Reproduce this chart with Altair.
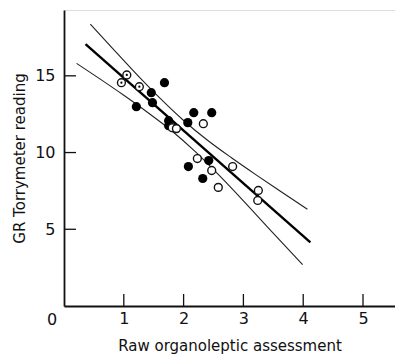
import altair as alt
import pandas as pd

# Fish samples: raw organoleptic score against GR Torrymeter reading
filled_x = [1.68, 1.46, 1.48, 1.21, 1.75, 1.75, 2.17, 2.47, 2.07, 2.42, 2.08, 2.32]
filled_y = [14.55, 13.90, 13.25, 12.99, 12.08, 11.75, 12.60, 12.60, 11.95, 9.48, 9.09, 8.31]
open_x = [1.81, 1.88, 2.33, 2.23, 2.47, 2.58, 2.82, 3.25, 3.24]
open_y = [11.62, 11.56, 11.88, 9.61, 8.83, 7.73, 9.09, 7.53, 6.88]
dotted_x = [1.05, 0.96, 1.26]
dotted_y = [15.06, 14.55, 14.29]

# Regression line and its confidence limits
fit_x = [0.36, 4.12]
fit_y = [17.06, 4.14]
upper_x = [0.44, 0.8, 1.2, 1.6, 2.0, 2.4, 2.8, 3.2, 3.6, 4.07]
upper_y = [18.37, 16.84, 15.16, 13.56, 12.09, 10.80, 9.66, 8.58, 7.53, 6.31]
lower_x = [0.21, 0.6, 1.0, 1.4, 1.8, 2.2, 2.6, 3.0, 3.4, 3.99]
lower_y = [15.81, 14.80, 13.73, 12.61, 11.42, 10.04, 8.49, 6.85, 5.16, 2.70]

x_ticks = [1, 2, 3, 4, 5]
y_ticks = [5, 10, 15]

FONT = "DejaVu Sans"
INK = "#111111"

x_scale = alt.Scale(domain=[0, 5.535], nice=False, zero=True)
y_scale = alt.Scale(domain=[0, 19.29], nice=False, zero=True)

x_axis = alt.Axis(values=x_ticks, format="d", ticks=False, grid=False, domainColor=INK, domainWidth=1.8,
                  labelFont=FONT, labelFontSize=16, labelColor=INK, labelPadding=4,
                  title="Raw organoleptic assessment", titleFont=FONT, titleFontSize=15,
                  titleFontWeight="normal", titleColor=INK, titlePadding=12)
y_axis = alt.Axis(values=y_ticks, format="d", ticks=False, grid=False, domainColor=INK, domainWidth=1.8,
                  labelFont=FONT, labelFontSize=16, labelColor=INK, labelPadding=9,
                  title="GR Torrymeter reading", titleFont=FONT, titleFontSize=15,
                  titleFontWeight="normal", titleColor=INK, titlePadding=7)

band = pd.concat([
    pd.DataFrame({"x": upper_x, "y": upper_y, "band": "upper"}),
    pd.DataFrame({"x": lower_x, "y": lower_y, "band": "lower"}),
])
fit = pd.DataFrame({"x": fit_x, "y": fit_y})
filled = pd.DataFrame({"x": filled_x, "y": filled_y})
hollow = pd.DataFrame({"x": open_x + dotted_x, "y": open_y + dotted_y})
dotted = pd.DataFrame({"x": dotted_x, "y": dotted_y})
xt = pd.DataFrame({"x": x_ticks, "y": [0] * len(x_ticks)})
yt = pd.DataFrame({"x": [0] * len(y_ticks), "y": y_ticks})
origin = pd.DataFrame({"x": [0], "y": [0], "t": ["0"]})

base_x = alt.X("x:Q", scale=x_scale, axis=x_axis)
base_y = alt.Y("y:Q", scale=y_scale, axis=y_axis)

bands = alt.Chart(band).mark_line(color="#222222", strokeWidth=1.1, interpolate="monotone").encode(
    x=base_x, y=base_y, detail="band:N")
fit_line = alt.Chart(fit).mark_line(color="#000000", strokeWidth=2.4).encode(x="x:Q", y="y:Q")
filled_pts = alt.Chart(filled).mark_circle(size=85, color="#000000", opacity=1).encode(x="x:Q", y="y:Q")
hollow_pts = alt.Chart(hollow).mark_point(shape="circle", size=62, filled=True, fill="white",
                                          stroke="#111111", strokeWidth=1.4, opacity=1).encode(x="x:Q", y="y:Q")
dots = alt.Chart(dotted).mark_circle(size=5, color="#000000", opacity=1).encode(x="x:Q", y="y:Q")
x_tick_marks = alt.Chart(xt).mark_tick(orient="vertical", size=12, thickness=1.3, color=INK,
                                       yOffset=-6, opacity=1).encode(x="x:Q", y="y:Q")
y_tick_marks = alt.Chart(yt).mark_tick(orient="horizontal", size=12, thickness=1.3, color=INK,
                                       xOffset=6, opacity=1).encode(x="x:Q", y="y:Q")
origin_label = alt.Chart(origin).mark_text(font=FONT, fontSize=16, color=INK, dx=-12, dy=14,
                                           baseline="middle").encode(x="x:Q", y="y:Q", text="t:N")

chart = alt.layer(bands, fit_line, filled_pts, hollow_pts, dots, x_tick_marks, y_tick_marks,
                  origin_label).properties(
    width=331, height=296,
    autosize=alt.AutoSizeParams(type="none"),
    padding={"left": 64, "top": 10, "right": 0, "bottom": 51},
).configure_view(stroke=None).configure(background="white")

chart.save("out.html", embed_options={"renderer": "svg", "actions": False})
